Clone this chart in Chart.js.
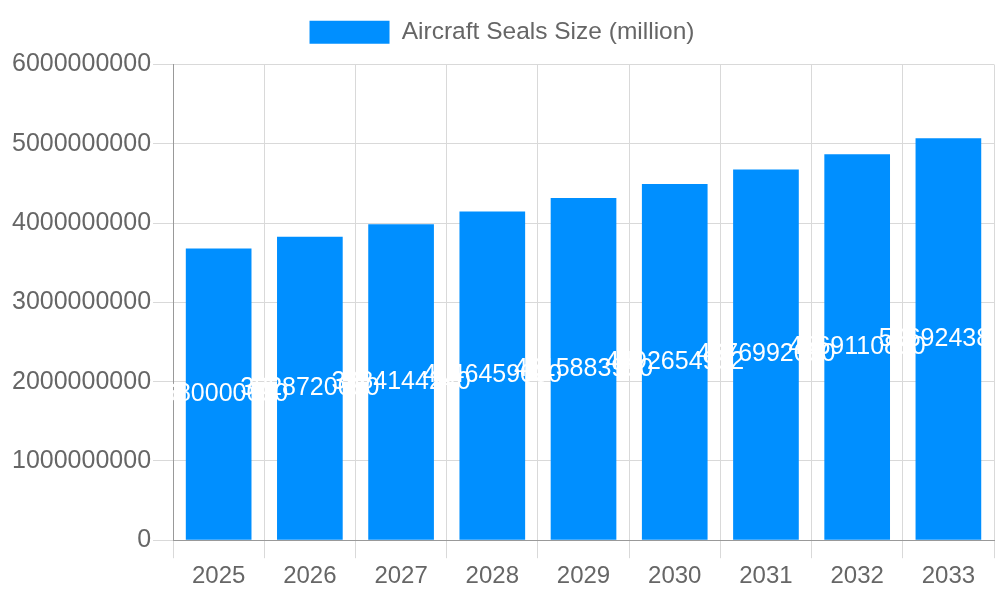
<!DOCTYPE html>
<html>
<head>
<meta charset="utf-8">
<script src="https://cdn.jsdelivr.net/npm/chart.js@4/dist/chart.umd.min.js"></script>
<style>
  html, body { margin: 0; padding: 0; background: #fff; }
  #wrap { width: 1000px; height: 600px; }
</style>
</head>
<body>
<div id="wrap"><canvas id="graph"></canvas></div>
<script>
'use strict';

// 年ごとのラベル
let years = ['2025', '2026', '2027', '2028', '2029', '2030', '2031', '2032', '2033'];
// 各年の値
let sealsSize = [3680000000, 3828720000, 3984144240, 4146459000, 4315883930, 4492654932, 4676992080, 4869110880, 5069243880];
let seriesName = 'Aircraft Seals Size (million)';

Chart.defaults.font.family = '"Liberation Sans", Arial, sans-serif';
Chart.defaults.font.size = 24;
Chart.defaults.color = '#666';

// バーの中央に値を描くプラグイン
let valueLabels = {
    id: 'valueLabels',
    afterDatasetsDraw(chart) {
        let ctx = chart.ctx;
        let area = chart.chartArea;
        ctx.save();
        ctx.beginPath();
        ctx.rect(area.left, area.top, area.right - area.left, area.bottom - area.top);
        ctx.clip();
        ctx.fillStyle = '#fff';
        ctx.font = '25px "Liberation Sans", Arial, sans-serif';
        ctx.textAlign = 'center';
        ctx.textBaseline = 'middle';
        chart.getDatasetMeta(0).data.forEach(function(bar, i) {
            let y = (bar.y + bar.base) / 2;
            ctx.fillText(String(sealsSize[i]), bar.x, y);
        });
        ctx.restore();
    }
};

// 凡例の下に少し余白を足す
let legendGap = {
    id: 'legendGap',
    beforeInit(chart) {
        let fit = chart.legend.fit;
        chart.legend.fit = function() {
            fit.bind(chart.legend)();
            this.height += 10;
        };
    }
};

let context = document.querySelector('#graph').getContext('2d');
let chart = new Chart(context, {
    type: 'bar',
    data: {
        labels: years,
        datasets: [{
            label: seriesName,
            data: sealsSize,
            backgroundColor: '#008fff'
        }]
    },
    options: {
        responsive: true,
        maintainAspectRatio: false,
        animation: false,
        layout: { padding: { top: 6, right: 6, bottom: 5, left: 10 } },
        plugins: {
            legend: {
                labels: { boxWidth: 80, boxHeight: 23, padding: 14, font: { size: 24.5 } }
            },
            tooltip: { enabled: false }
        },
        scales: {
            x: {
                grid: { color: '#d9d9d9', tickLength: 18 },
                border: { color: '#999' },
                ticks: { padding: 4 }
            },
            y: {
                min: 0,
                max: 6000000000,
                grid: { color: '#d9d9d9', tickLength: 20 },
                border: { color: '#999' },
                ticks: {
                    stepSize: 1000000000,
                    padding: 2,
                    font: { size: 25 },
                    callback: function(value) { return String(value); }
                }
            }
        }
    },
    plugins: [valueLabels, legendGap]
});
</script>
</body>
</html>
